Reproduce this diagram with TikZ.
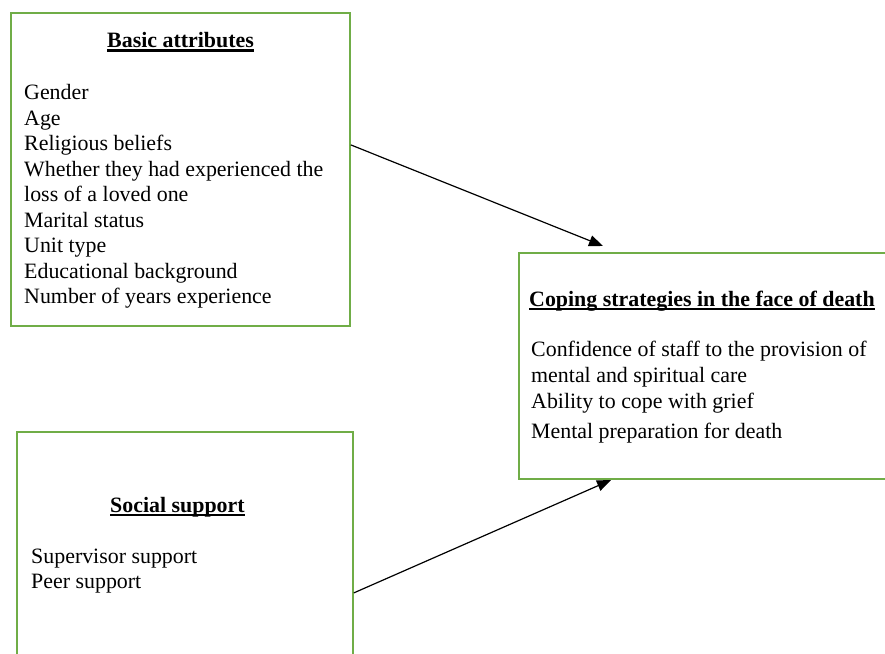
\documentclass[tikz,border=0pt]{standalone}
\usepackage{fontspec}
\setmainfont{Liberation Serif}
\usetikzlibrary{arrows.meta}
\definecolor{boxgreen}{RGB}{112,173,71}
\newcommand{\thickul}[1]{\setbox0=\hbox{#1}\rlap{\vrule width \wd0 height -1.5pt depth 4pt}\box0}

\begin{document}
\begin{tikzpicture}[x=1pt,y=-1pt]
                \tikzstyle{every node}+=[inner sep=0pt]
                \tikzstyle{box}=[draw=boxgreen, line width=1.8pt, rectangle, anchor=north west]
                \tikzstyle{txt}=[anchor=base west, font=\fontsize{21.9}{25.5}\selectfont]
                \tikzstyle{head}=[txt, font=\fontsize{21.9}{25.5}\selectfont\bfseries]
                \tikzstyle{link}=[black, line width=1.2pt, -{Triangle[length=14pt,width=11pt]}]
                \useasboundingbox (0,0) rectangle (885,653);
                % boxes
                \node [box, minimum width=339pt, minimum height=313pt] (basic) at (10,12) {};
                \node [box, minimum width=372pt, minimum height=226pt] (coping) at (518,252) {};
                \node [box, minimum width=336pt, minimum height=230pt] (social) at (16,431) {};
                % basic attributes
                \node [head] (basict) at (107,47.5) {\thickul{Basic attributes}};
                \node [txt] (b1) at (24,99.5) {Gender};
                \node [txt] (b2) at (24,125) {Age};
                \node [txt] (b3) at (24,150.5) {Religious beliefs};
                \node [txt] (b4) at (24,176) {Whether they had experienced the};
                \node [txt] (b5) at (24,201.5) {loss of a loved one};
                \node [txt] (b6) at (24,227) {Marital status};
                \node [txt] (b7) at (24,252.5) {Unit type};
                \node [txt] (b8) at (24,278) {Educational background};
                \node [txt] (b9) at (24,303.5) {Number of years experience};
                % coping strategies
                \node [head] (copingt) at (529,306) {\thickul{Coping strategies in the face of death}};
                \node [txt] (c1) at (531,356) {Confidence of staff to the provision of};
                \node [txt] (c2) at (531,382) {mental and spiritual care};
                \node [txt] (c3) at (531,408) {Ability to cope with grief};
                \node [txt] (c4) at (531,438) {Mental preparation for death};
                % social support
                \node [head] (socialt) at (110,512) {\thickul{Social support}};
                \node [txt] (s1) at (31,563) {Supervisor support};
                \node [txt] (s2) at (31,588) {Peer support};
                % arrows
                \coordinate (into1) at (603,246);
                \coordinate (into2) at (611,480);
                \draw [link] ([yshift=24.5pt]basic.east) -- (into1);
                \draw [link] ([yshift=-46pt]social.east) -- (into2);
\end{tikzpicture}
\end{document}
